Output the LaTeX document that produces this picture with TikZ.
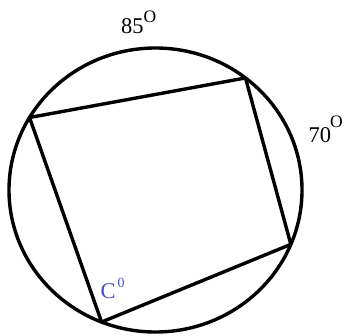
\documentclass[tikz,border=0pt]{standalone}
\usepackage{fontspec}
\setmainfont{Liberation Serif}
\definecolor{labelblue}{RGB}{75,75,205}
\begin{document}
\begin{tikzpicture}[x=1pt,y=-1pt,
  shape line/.style={line width=3.4pt,line join=round},
  lbl/.style={anchor=base west,inner sep=0pt,font=\fontsize{22.5}{24}\selectfont},
  sup/.style={anchor=base west,inner sep=0pt,font=\fontsize{17.5}{19}\selectfont},
  clbl/.style={anchor=base west,inner sep=0pt,text=labelblue,font=\fontsize{22.5}{24}\selectfont},
  csup/.style={anchor=base west,inner sep=0pt,text=labelblue,font=\fontsize{14}{15}\selectfont}]
\useasboundingbox (0,0) rectangle (344,335);
\coordinate (O) at (155.5,190);
\draw[shape line] (O) ellipse [x radius=146.5pt, y radius=142pt];
\coordinate (A) at ({155.5+146.5*cos(149.3)},{190-142*sin(149.3)});
\coordinate (B) at ({155.5+146.5*cos(52.1)},{190-142*sin(52.1)});
\coordinate (C) at ({155.5+146.5*cos(-22.5)},{190-142*sin(-22.5)});
\coordinate (D) at ({155.5+146.5*cos(248.4)},{190-142*sin(248.4)});
\draw[shape line] (A) -- (B) -- (C) -- (D) -- cycle;
\node[lbl] (l85) at (121,33.5) {85};
\node[sup] (s85) at (143.5,22.5) {O};
\node[lbl] (l70) at (308.5,142.5) {70};
\node[sup] (s70) at (330,127.5) {O};
\node[clbl] (lc) at (100.5,298.5) {C};
\node[csup] (sc) at (117.5,287.5) {0};
\end{tikzpicture}
\end{document}
